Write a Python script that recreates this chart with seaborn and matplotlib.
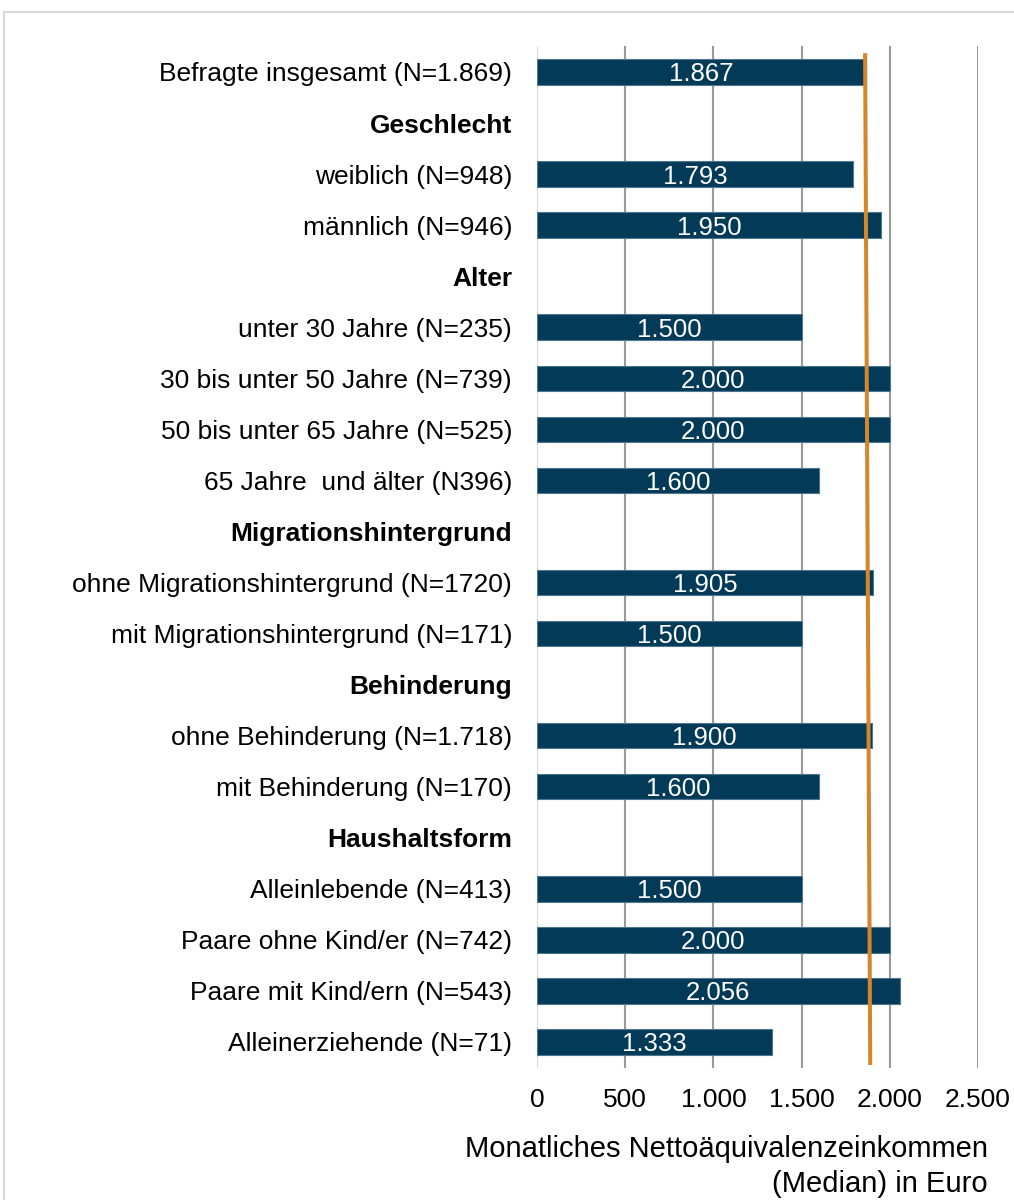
# -*- coding: utf-8 -*-
import numpy as np
import matplotlib
matplotlib.use("Agg")
import matplotlib.pyplot as plt
from matplotlib.patches import Rectangle
from matplotlib.ticker import FuncFormatter
import seaborn as sns

palette = {
    "bar": "#023a58", "edge": "#4d7890",
    "orange": "#d4862a", "grid": "#9a9a9a",
    "zero": "#d9d9d9", "frame": "#d9d9d9",
    "text": "#000000"
}

# Data (headers have no value)
categories = [
    "Befragte insgesamt (N=1.869)", "Geschlecht",
    "weiblich (N=948)", "männlich (N=946)", "Alter",
    "unter 30 Jahre (N=235)", "30 bis unter 50 Jahre (N=739)",
    "50 bis unter 65 Jahre (N=525)", "65 Jahre  und älter (N396)",
    "Migrationshintergrund",
    "ohne Migrationshintergrund (N=1720)", "mit Migrationshintergrund (N=171)",
    "Behinderung",
    "ohne Behinderung (N=1.718)", "mit Behinderung (N=170)",
    "Haushaltsform",
    "Alleinlebende (N=413)", "Paare ohne Kind/er (N=742)",
    "Paare mit Kind/ern (N=543)", "Alleinerziehende (N=71)",
]
values = [1867, np.nan, 1793, 1950, np.nan, 1500, 2000, 2000, 1600, np.nan,
          1905, 1500, np.nan, 1900, 1600, np.nan, 1500, 2000, 2056, 1333]
headers = ["Geschlecht", "Alter", "Migrationshintergrund", "Behinderung",
           "Haushaltsform"]
# reference line (overall median), drawn slightly tilted in the original
median_ref = [1860, 1889]
x_ticks = [0, 500, 1000, 1500, 2000, 2500]

sns.set_style("white")
plt.rcParams["font.family"] = ["Liberation Sans", "DejaVu Sans"]


def de_fmt(v, pos=None):
    return f"{v:,.0f}".replace(",", ".")


fig = plt.figure(figsize=(10.14, 12), dpi=100)
ax = fig.add_axes([0.5296, 0.1104, 0.9645 - 0.5296, 0.9613 - 0.1104])

sns.barplot(x=values, y=categories, order=categories, orient="h",
            color=palette["bar"], saturation=1, width=0.5,
            edgecolor=palette["edge"], linewidth=0.8, ax=ax, zorder=3)

labels = ax.bar_label(ax.containers[0], fmt=de_fmt, label_type="center",
                      color="white", fontsize=18.5)
for t in labels:
    t.set_va("center_baseline")

# orange reference line
ax.plot(median_ref, [-0.37, len(categories) - 0.55],
        color=palette["orange"], lw=2.9, zorder=4,
        solid_capstyle="butt")

ax.set_xlim(0, 2500)
ax.set_ylim(len(categories) - 0.5, -0.5)
ax.set_xticks(x_ticks)
ax.xaxis.set_major_formatter(FuncFormatter(de_fmt))

ax.grid(True, axis="x", color=palette["grid"], lw=1.5, zorder=0)
ax.get_xgridlines()[0].set_color(palette["zero"])
for s in ax.spines.values():
    s.set_visible(False)

ax.tick_params(axis="x", length=0, pad=15, labelsize=19,
               labelcolor=palette["text"])
ax.tick_params(axis="y", length=0, pad=18, labelsize=19,
               labelcolor=palette["text"])
for lab in ax.get_yticklabels():
    if lab.get_text() in headers:
        lab.set_fontweight("bold")

ax.set_ylabel("")
ax.set_xlabel("Monatliches Nettoäquivalenzeinkommen\n(Median) in Euro",
              fontsize=21, color=palette["text"], ha="right",
              multialignment="right", va="top", linespacing=1.32)
ax.xaxis.set_label_coords(1.0227, -0.066)

# outer chart frame (cropped at right/bottom)
fig.add_artist(Rectangle((4 / 1014, -0.05), 1.1, 1.05 - 12 / 1200,
                         transform=fig.transFigure, fill=False,
                         ec=palette["frame"], lw=1.5))

fig.savefig("out.png", dpi=100)
